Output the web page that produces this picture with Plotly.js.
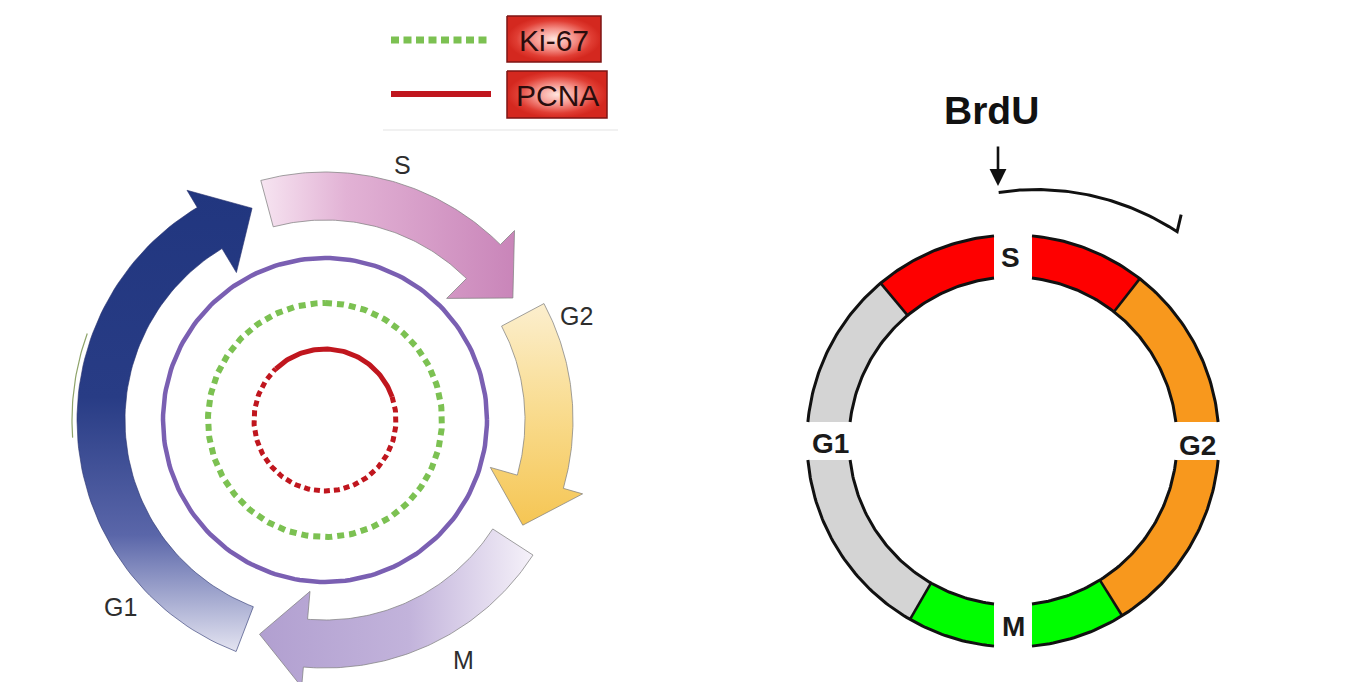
<!DOCTYPE html>
<html><head><meta charset="utf-8">
<script src="https://cdn.plot.ly/plotly-3.0.1.min.js"></script>
<style>html,body{margin:0;padding:0;background:#fff;overflow:hidden}#chart{width:1364px;height:682px}</style>
</head><body><div id="chart"></div>
<script>
// ---------------- data ----------------
// Left diagram: cell-cycle phase arrows (angles in degrees, counter-clockwise from east)
const leftPhases    = ['G1', 'S', 'G2', 'M'];
const leftTail      = [249, 105, 28, -33];
const leftHeadBase  = [121, 45, -16, -95];
const leftTip       = [109, 33, -28, -107];
const leftLabelX    = [120, 402, 576, 463];
const leftLabelY    = [607, 165, 316, 660];
const leftGradType  = ['vertical', 'horizontal', 'vertical', 'horizontal'];
const leftGradStart = [190, 255, 290, 258];
const leftGradStop  = [650, 515, 528, 532];
const leftGradColors = [
  [[0, '#21367f'], [0.45, '#283c85'], [0.75, '#5a66a9'], [1, '#e2e2f0']],
  [[0, '#f8e8f3'], [0.35, '#e2b2d5'], [1, '#c985b9']],
  [[0, '#fcf1d6'], [0.5, '#f9dc90'], [1, '#f5c552']],
  [[0, '#b19fd0'], [0.55, '#c2b3db'], [1, '#f5f1f9']]
];

// Legend markers
const markerNames  = ['Ki-67', 'PCNA'];
const markerColors = ['#7cc152', '#c0161e'];
const markerDash   = ['8px,4.5px', 'solid'];
const markerY      = [40, 94];

// Inner rings: cell outline, Ki-67 (dotted), PCNA (solid + dashed)
const innerRingNames  = ['cell', 'Ki-67', 'PCNA'];
const innerRingRadius = [162, 117, 71];
const innerRingColor  = ['#7a5fb2', '#7cc152', '#c0161e'];
const pcnaSolidArc    = [134, 19];

// Right diagram: BrdU ring
const rightPhases     = ['S', 'G2', 'M', 'G1'];
const rightGapAngle   = [90, 0, 270, 180];
const rightLabelX     = [1010, 1197, 1013, 830];
const rightLabelY     = [257, 445, 626, 443];
const segFrom  = [90, 130, 180, 240, 270, 302, 0, 52];
const segTo    = [130, 180, 240, 270, 302, 360, 52, 90];
const segColor = ['#fe0000', '#d4d4d4', '#d4d4d4', '#00fe00', '#00fe00', '#f8981d', '#f8981d', '#fe0000'];
const segBoundaries = [130, 240, 302, 52];
const bracketArc = [93.3, 51.9];
const bracketRadius = [249, 266];

// ---------------- geometry ----------------
const LC = [325, 420];      // left centre (px)
const RC = [1013, 441];     // right centre (px)
const bandIn = 200, bandOut = 248, headIn = 172, headOut = 268;
const ringOut = 206, ringIn = 164, gapHalf = 19;
const rad = d => d * Math.PI / 180;

function arc(c, r, a0, a1, n) {
  const xs = [], ys = [];
  for (let i = 0; i <= n; i++) {
    const a = rad(a0 + (a1 - a0) * i / n);
    xs.push(c[0] + r * Math.cos(a)); ys.push(c[1] - r * Math.sin(a));
  }
  return [xs, ys];
}
function pt(c, r, a) { return [c[0] + r * Math.cos(rad(a)), c[1] - r * Math.sin(rad(a))]; }

const traces = [];
const hidden = {hoverinfo: 'skip', showlegend: false, mode: 'lines', type: 'scatter'};

// arrows (draw S, G2, M, then G1)
[1, 2, 3, 0].forEach(k => {
  const [ox, oy] = arc(LC, bandOut, leftTail[k], leftHeadBase[k], 80);
  const [ix, iy] = arc(LC, bandIn, leftHeadBase[k], leftTail[k], 80);
  const hO = pt(LC, headOut, leftHeadBase[k]);
  const tp = pt(LC, (bandIn + bandOut) / 2, leftTip[k]);
  const hI = pt(LC, headIn, leftHeadBase[k]);
  const xs = ox.concat([hO[0], tp[0], hI[0]], ix, [ox[0]]);
  const ys = oy.concat([hO[1], tp[1], hI[1]], iy, [oy[0]]);
  traces.push(Object.assign({}, hidden, {
    x: xs, y: ys, fill: 'toself', fillcolor: leftGradColors[k][1][1],
    fillgradient: {type: leftGradType[k], colorscale: leftGradColors[k],
                   start: leftGradStart[k], stop: leftGradStop[k]},
    line: {color: k === 0 ? 'rgba(40,50,110,0.6)' : 'rgba(130,130,130,0.75)', width: 1},
    name: leftPhases[k]
  }));
});

// faint olive stroke at left
(() => {
  const [x, y] = arc(LC, 253, 160, 184, 30);
  traces.push(Object.assign({}, hidden, {x, y, line: {color: '#8fa46a', width: 1.2}}));
})();

// cell outline circle
(() => {
  const [x, y] = arc(LC, innerRingRadius[0], 0, 360, 200);
  traces.push(Object.assign({}, hidden, {x, y, line: {color: innerRingColor[0], width: 4.5}}));
})();
// Ki-67 dotted circle
(() => {
  const [x, y] = arc(LC, innerRingRadius[1], 90, -270, 240);
  traces.push(Object.assign({}, hidden, {x, y, line: {color: innerRingColor[1], width: 6, dash: '7px,5px'}}));
})();
// PCNA: solid top arc, dashed remainder
(() => {
  const [x, y] = arc(LC, innerRingRadius[2], pcnaSolidArc[0], pcnaSolidArc[1], 80);
  traces.push(Object.assign({}, hidden, {x, y, line: {color: innerRingColor[2], width: 5}}));
  const [x2, y2] = arc(LC, innerRingRadius[2], pcnaSolidArc[1], pcnaSolidArc[0] - 360, 160);
  traces.push(Object.assign({}, hidden, {x: x2, y: y2, line: {color: innerRingColor[2], width: 5, dash: '6px,4px'}}));
})();

// legend lines
markerNames.forEach((n, i) => {
  traces.push(Object.assign({}, hidden, {
    x: [391, 491], y: [markerY[i], markerY[i]],
    line: {color: markerColors[i], width: i === 0 ? 7 : 6, dash: markerDash[i]}
  }));
});
// legend boxes (red gradient)
const boxX = [[507, 601], [507, 607]];
const boxY = [[16, 62], [71, 118]];
markerNames.forEach((n, i) => {
  const [x0, x1] = boxX[i], [y0, y1] = boxY[i];
  traces.push(Object.assign({}, hidden, {
    x: [x0, x1, x1, x0, x0], y: [y0, y0, y1, y1, y0], fill: 'toself', fillcolor: '#e0453e',
    fillgradient: {type: 'radial', colorscale: [[0, '#ffe4de'], [0.45, '#f59088'], [0.8, '#e03d33'], [1, '#d4281f']]},
    line: {color: '#7e1515', width: 1.5}
  }));
});
// separator line
traces.push(Object.assign({}, hidden, {x: [383, 618], y: [130, 130], line: {color: '#ececec', width: 1.5}}));

// ---------- right ring ----------
const isGap = a => (((a % 90) + 90) % 90) === 0;
const gapOff = r => Math.asin(gapHalf / r) * 180 / Math.PI;
segFrom.forEach((a0, i) => {
  const a1 = segTo[i];
  const o0 = a0 + (isGap(a0) ? gapOff(ringOut) : 0), o1 = a1 - (isGap(a1) ? gapOff(ringOut) : 0);
  const i0 = a0 + (isGap(a0) ? gapOff(ringIn) : 0), i1 = a1 - (isGap(a1) ? gapOff(ringIn) : 0);
  const [ox, oy] = arc(RC, ringOut, o0, o1, 60);
  const [ix, iy] = arc(RC, ringIn, i1, i0, 60);
  traces.push(Object.assign({}, hidden, {
    x: ox.concat(ix, [ox[0]]), y: oy.concat(iy, [oy[0]]),
    fill: 'toself', fillcolor: segColor[i], line: {width: 0, color: segColor[i]}
  }));
});
// black outlines
[[0, 90], [90, 180], [180, 270], [270, 360]].forEach(([a0, a1]) => {
  [ringOut, ringIn].forEach(r => {
    const [x, y] = arc(RC, r, a0 + gapOff(r), a1 - gapOff(r), 80);
    traces.push(Object.assign({}, hidden, {x, y, line: {color: '#111', width: 3}}));
  });
});
segBoundaries.forEach(a => {
  const p0 = pt(RC, ringIn, a), p1 = pt(RC, ringOut, a);
  traces.push(Object.assign({}, hidden, {x: [p0[0], p1[0]], y: [p0[1], p1[1]], line: {color: '#111', width: 2.6}}));
});
// bracket arc
(() => {
  const xs = [], ys = [], n = 60;
  for (let i = 0; i <= n; i++) {
    const a = bracketArc[0] + (bracketArc[1] - bracketArc[0]) * i / n;
    const r = bracketRadius[0] + (bracketRadius[1] - bracketRadius[0]) * i / n;
    const p = pt(RC, r, a); xs.push(p[0]); ys.push(p[1]);
  }
  const tip = pt(RC, bracketRadius[1] + 16, bracketArc[1] + 1.5);
  xs.push(tip[0]); ys.push(tip[1]);
  traces.push(Object.assign({}, hidden, {x: xs, y: ys, line: {color: '#111', width: 3}}));
})();

// ---------------- annotations ----------------
const ann = [];
const sans = 'Liberation Sans, Arial, sans-serif';
leftPhases.forEach((p, i) => ann.push({x: leftLabelX[i], y: leftLabelY[i], text: p, showarrow: false,
  xref: 'x', yref: 'y', font: {family: sans, size: 25, color: '#2e2e2e'}}));
markerNames.forEach((n, i) => ann.push({x: (boxX[i][0] + boxX[i][1]) / 2, y: (boxY[i][0] + boxY[i][1]) / 2 + 1,
  text: n, showarrow: false, xref: 'x', yref: 'y', font: {family: sans, size: 30, color: '#2a0d0d'}}));
rightPhases.forEach((p, i) => ann.push({x: rightLabelX[i], y: rightLabelY[i], text: '<b>' + p + '</b>',
  showarrow: false, xref: 'x', yref: 'y', font: {family: sans, size: 28, color: '#1a1a1a'}}));
ann.push({x: 991, y: 110, text: '<b>BrdU</b>', showarrow: false, xref: 'x', yref: 'y',
  font: {family: sans, size: 39, color: '#111'}});
ann.push({x: 998, y: 186, ax: 998, ay: 145, axref: 'x', ayref: 'y', xref: 'x', yref: 'y', text: '',
  showarrow: true, arrowhead: 2, arrowsize: 1.3, arrowwidth: 2.6, arrowcolor: '#111'});

const layout = {
  width: 1364, height: 682, margin: {l: 0, r: 0, t: 0, b: 0},
  paper_bgcolor: '#ffffff', plot_bgcolor: '#ffffff', showlegend: false,
  xaxis: {range: [0, 1364], visible: false, fixedrange: true},
  yaxis: {range: [682, 0], visible: false, fixedrange: true},
  annotations: ann
};
Plotly.newPlot('chart', traces, layout, {staticPlot: true, displayModeBar: false});
</script></body></html>
